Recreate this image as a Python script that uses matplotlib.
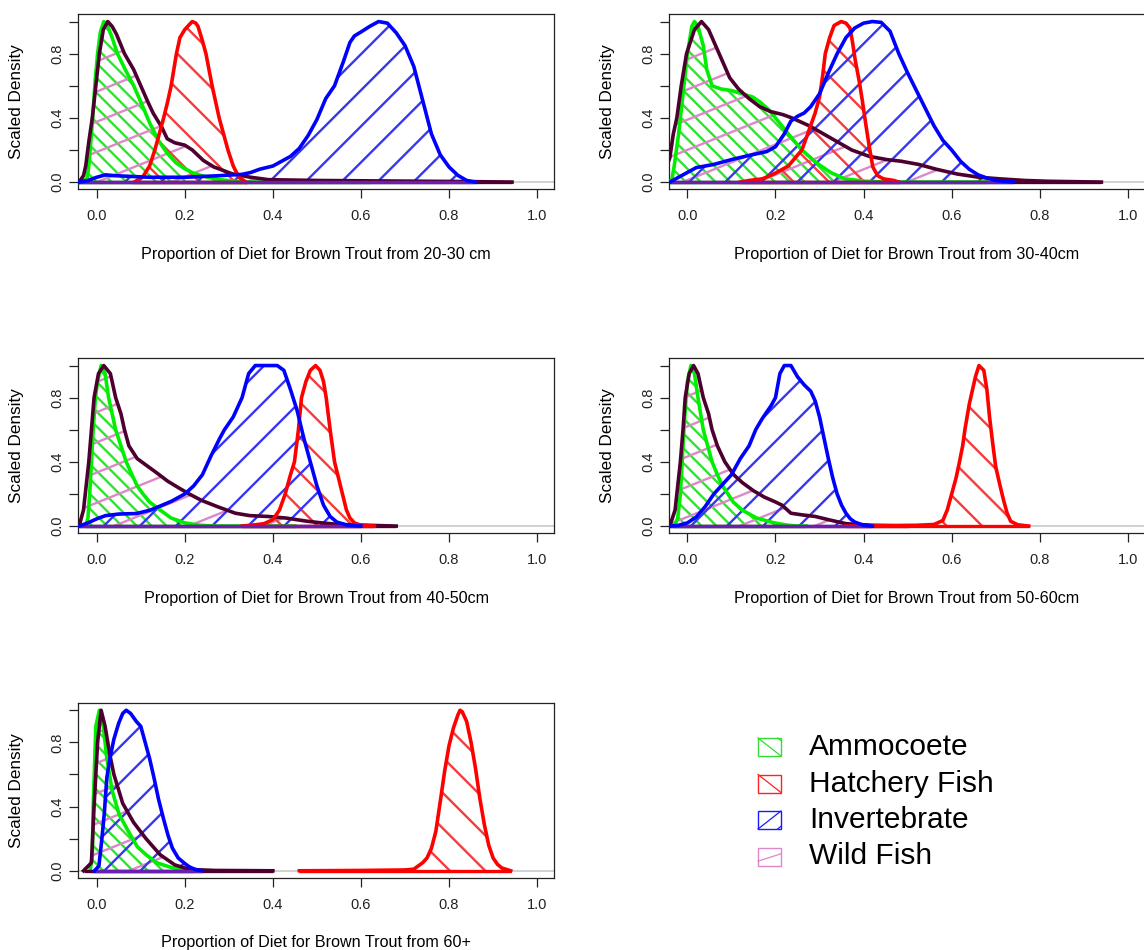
"""
Scaled posterior densities of diet proportions for brown trout size classes,
drawn as hatched density polygons in the style of the original R figure.
"""

import numpy as np
import matplotlib
matplotlib.use("Agg")
import matplotlib.pyplot as plt
from matplotlib.patches import Polygon, Rectangle
from matplotlib.collections import LineCollection

plt.rcParams["font.family"] = ["Liberation Sans", "DejaVu Sans"]

FIG_W, FIG_H = 1144, 950

PANEL_LABELS = [
    "Proportion of Diet for Brown Trout from 20-30 cm",
    "Proportion of Diet for Brown Trout from 30-40cm",
    "Proportion of Diet for Brown Trout from 40-50cm",
    "Proportion of Diet for Brown Trout from 50-60cm",
    "Proportion of Diet for Brown Trout from 60+",
]
SOURCES = ["Ammocoete", "Hatchery Fish", "Invertebrate", "Wild Fish"]

X_TICKS = [0.0, 0.2, 0.4, 0.6, 0.8, 1.0]
X_TICK_LABELS = ["0.0", "0.2", "0.4", "0.6", "0.8", "1.0"]
Y_TICKS = [0.0, 0.2, 0.4, 0.6, 0.8, 1.0]
Y_TICK_LABELS = ["0.0", "", "0.4", "", "0.8", ""]

# (proportion, scaled density) points, one curve per panel
AMMOCOETE = [
    [(-0.04, 0), (-0.022, 0.02), (-0.018, 0.1), (-0.012, 0.3), (-0.008, 0.45), (-0.003, 0.65),
     (0.002, 0.8), (0.008, 0.93), (0.016, 1.0), (0.025, 0.97), (0.035, 0.9), (0.047, 0.8),
     (0.065, 0.7), (0.084, 0.6), (0.1, 0.5), (0.12, 0.37), (0.14, 0.26), (0.16, 0.18),
     (0.18, 0.12), (0.2, 0.083), (0.22, 0.055), (0.25, 0.031), (0.28, 0.015), (0.31, 0.006),
     (0.35, 0), (0.62, 0)],
    [(-0.04, 0), (-0.035, 0.02), (-0.03, 0.1), (-0.02, 0.3), (-0.01, 0.55), (0.0, 0.8),
     (0.01, 0.97), (0.016, 1.0), (0.024, 0.97), (0.036, 0.85), (0.044, 0.7), (0.056, 0.6),
     (0.076, 0.58), (0.1, 0.57), (0.124, 0.55), (0.148, 0.53), (0.164, 0.5), (0.185, 0.45),
     (0.2, 0.4), (0.229, 0.3), (0.26, 0.2), (0.293, 0.12), (0.325, 0.06), (0.357, 0.02),
     (0.405, 0.005), (0.45, 0), (0.68, 0)],
    [(-0.025, 0), (-0.02, 0.05), (-0.016, 0.2), (-0.012, 0.4), (-0.008, 0.6), (-0.003, 0.8),
     (0.002, 0.9), (0.01, 1.0), (0.019, 0.95), (0.027, 0.8), (0.035, 0.7), (0.043, 0.6),
     (0.055, 0.5), (0.067, 0.4), (0.08, 0.32), (0.092, 0.25), (0.105, 0.2), (0.12, 0.15),
     (0.144, 0.1), (0.169, 0.05), (0.2, 0.02), (0.234, 0.005), (0.27, 0), (0.45, 0)],
    [(-0.03, 0), (-0.022, 0.05), (-0.016, 0.2), (-0.012, 0.4), (-0.008, 0.6), (-0.003, 0.8),
     (0.0, 0.9), (0.008, 1.0), (0.016, 0.95), (0.024, 0.8), (0.03, 0.7), (0.036, 0.6),
     (0.046, 0.5), (0.056, 0.4), (0.068, 0.32), (0.08, 0.25), (0.092, 0.2), (0.104, 0.15),
     (0.124, 0.1), (0.157, 0.05), (0.197, 0.02), (0.229, 0.005), (0.25, 0), (0.27, 0)],
    [(-0.015, 0), (-0.01, 0.1), (-0.008, 0.4), (-0.002, 0.9), (0.006, 1.0), (0.015, 0.9),
     (0.023, 0.7), (0.035, 0.5), (0.051, 0.35), (0.071, 0.25), (0.092, 0.15), (0.112, 0.1),
     (0.136, 0.05), (0.17, 0.02), (0.21, 0), (0.22, 0)],
]

HATCHERY = [
    [(0.085, 0), (0.104, 0.03), (0.12, 0.1), (0.132, 0.2), (0.142, 0.3), (0.152, 0.4),
     (0.161, 0.5), (0.169, 0.6), (0.175, 0.7), (0.181, 0.8), (0.189, 0.9), (0.2, 0.95),
     (0.21, 0.98), (0.217, 1.0), (0.225, 0.99), (0.23, 0.97), (0.24, 0.88), (0.248, 0.8),
     (0.262, 0.6), (0.27, 0.5), (0.278, 0.4), (0.288, 0.3), (0.298, 0.2), (0.31, 0.1),
     (0.323, 0.03), (0.339, 0)],
    [(0.12, 0), (0.14, 0.01), (0.17, 0.02), (0.196, 0.05), (0.229, 0.1), (0.26, 0.2),
     (0.277, 0.33), (0.29, 0.43), (0.3, 0.53), (0.307, 0.66), (0.313, 0.8), (0.323, 0.9),
     (0.333, 0.975), (0.349, 1.0), (0.36, 0.99), (0.369, 0.96), (0.375, 0.87), (0.381, 0.76),
     (0.39, 0.63), (0.397, 0.51), (0.405, 0.36), (0.413, 0.22), (0.421, 0.094), (0.432, 0.04),
     (0.445, 0.02), (0.469, 0.01), (0.48, 0)],
    [(0.33, 0), (0.36, 0.008), (0.38, 0.015), (0.4, 0.04), (0.415, 0.1), (0.428, 0.2),
     (0.44, 0.32), (0.449, 0.4), (0.458, 0.6), (0.465, 0.8), (0.475, 0.9), (0.485, 0.97),
     (0.497, 1.0), (0.507, 0.97), (0.515, 0.9), (0.521, 0.8), (0.53, 0.6), (0.54, 0.4),
     (0.549, 0.3), (0.558, 0.2), (0.567, 0.1), (0.575, 0.05), (0.585, 0.02), (0.6, 0.005),
     (0.63, 0)],
    [(0.36, 0), (0.45, 0.003), (0.52, 0.005), (0.56, 0.01), (0.58, 0.035), (0.59, 0.1),
     (0.6, 0.2), (0.61, 0.3), (0.617, 0.39), (0.625, 0.5), (0.63, 0.6), (0.64, 0.76),
     (0.654, 0.93), (0.662, 1.0), (0.673, 0.97), (0.68, 0.85), (0.686, 0.68), (0.693, 0.52),
     (0.7, 0.37), (0.71, 0.25), (0.718, 0.16), (0.726, 0.08), (0.734, 0.03), (0.75, 0.008),
     (0.775, 0)],
    [(0.46, 0), (0.6, 0.002), (0.7, 0.005), (0.72, 0.01), (0.73, 0.03), (0.74, 0.05),
     (0.75, 0.08), (0.76, 0.14), (0.77, 0.245), (0.78, 0.43), (0.79, 0.62), (0.8, 0.78),
     (0.81, 0.89), (0.82, 0.97), (0.825, 1.0), (0.83, 0.99), (0.84, 0.93), (0.85, 0.8),
     (0.86, 0.64), (0.87, 0.45), (0.88, 0.29), (0.89, 0.16), (0.9, 0.08), (0.91, 0.04),
     (0.92, 0.017), (0.94, 0)],
]

INVERTEBRATE = [
    [(-0.04, 0), (-0.02, 0.01), (0.0, 0.03), (0.02, 0.045), (0.04, 0.04), (0.08, 0.035),
     (0.12, 0.03), (0.16, 0.03), (0.2, 0.03), (0.24, 0.035), (0.28, 0.04), (0.31, 0.045),
     (0.33, 0.048), (0.35, 0.06), (0.37, 0.08), (0.4, 0.1), (0.42, 0.13), (0.44, 0.16),
     (0.46, 0.21), (0.48, 0.29), (0.5, 0.39), (0.52, 0.52), (0.54, 0.6), (0.56, 0.75),
     (0.575, 0.87), (0.585, 0.91), (0.6, 0.935), (0.62, 0.97), (0.64, 1.0), (0.66, 0.99),
     (0.68, 0.93), (0.7, 0.85), (0.72, 0.72), (0.74, 0.51), (0.76, 0.3), (0.78, 0.17),
     (0.8, 0.094), (0.82, 0.042), (0.84, 0.01), (0.86, 0)],
    [(-0.04, 0), (-0.02, 0.03), (0.0, 0.06), (0.02, 0.09), (0.06, 0.11), (0.1, 0.14),
     (0.14, 0.166), (0.18, 0.19), (0.2, 0.22), (0.22, 0.3), (0.235, 0.38), (0.25, 0.41),
     (0.265, 0.43), (0.28, 0.47), (0.3, 0.55), (0.32, 0.68), (0.34, 0.8), (0.36, 0.9),
     (0.38, 0.96), (0.4, 0.99), (0.42, 1.0), (0.44, 0.995), (0.46, 0.94), (0.48, 0.8),
     (0.5, 0.68), (0.52, 0.57), (0.54, 0.46), (0.56, 0.35), (0.58, 0.26), (0.6, 0.2),
     (0.62, 0.13), (0.64, 0.08), (0.66, 0.045), (0.68, 0.025), (0.7, 0.01), (0.74, 0)],
    [(-0.04, 0), (-0.02, 0.02), (0.0, 0.045), (0.02, 0.065), (0.05, 0.075), (0.09, 0.078),
     (0.12, 0.098), (0.14, 0.12), (0.17, 0.155), (0.2, 0.2), (0.22, 0.25), (0.24, 0.32),
     (0.26, 0.44), (0.28, 0.55), (0.29, 0.6), (0.31, 0.68), (0.33, 0.8), (0.345, 0.95),
     (0.36, 1.0), (0.41, 1.0), (0.425, 0.97), (0.44, 0.85), (0.455, 0.72), (0.47, 0.55),
     (0.485, 0.4), (0.5, 0.25), (0.515, 0.13), (0.53, 0.06), (0.545, 0.025), (0.57, 0.005),
     (0.6, 0)],
    [(-0.04, 0), (-0.02, 0.005), (0.0, 0.02), (0.02, 0.056), (0.04, 0.12), (0.06, 0.2),
     (0.08, 0.26), (0.1, 0.32), (0.12, 0.42), (0.14, 0.5), (0.155, 0.6), (0.17, 0.67),
     (0.19, 0.75), (0.2, 0.8), (0.21, 0.95), (0.22, 1.0), (0.235, 1.0), (0.25, 0.93),
     (0.265, 0.88), (0.28, 0.84), (0.29, 0.78), (0.3, 0.68), (0.31, 0.55), (0.32, 0.42),
     (0.33, 0.3), (0.34, 0.2), (0.35, 0.13), (0.36, 0.08), (0.37, 0.045), (0.38, 0.025),
     (0.4, 0.005), (0.42, 0)],
    [(-0.005, 0), (0.005, 0.03), (0.011, 0.18), (0.017, 0.35), (0.023, 0.58), (0.03, 0.7),
     (0.039, 0.82), (0.05, 0.92), (0.059, 0.98), (0.067, 1.0), (0.077, 0.98), (0.09, 0.93),
     (0.1, 0.9), (0.11, 0.8), (0.12, 0.7), (0.13, 0.58), (0.14, 0.45), (0.152, 0.32),
     (0.162, 0.22), (0.172, 0.14), (0.185, 0.08), (0.2, 0.045), (0.21, 0.025), (0.225, 0.006),
     (0.24, 0)],
]

WILD_FISH = [
    [(-0.04, 0), (-0.03, 0.04), (-0.025, 0.1), (-0.018, 0.25), (-0.01, 0.4), (-0.002, 0.6),
     (0.006, 0.8), (0.015, 0.95), (0.025, 1.0), (0.035, 0.97), (0.045, 0.92), (0.063, 0.8),
     (0.084, 0.7), (0.1, 0.6), (0.116, 0.5), (0.128, 0.43), (0.148, 0.34), (0.16, 0.27),
     (0.177, 0.245), (0.2, 0.23), (0.217, 0.2), (0.242, 0.135), (0.266, 0.094), (0.307, 0.052),
     (0.347, 0.031), (0.39, 0.015), (0.5, 0.01), (0.7, 0.006), (0.85, 0.003), (0.943, 0)],
    [(-0.06, 0), (-0.05, 0.08), (-0.04, 0.15), (-0.032, 0.3), (-0.024, 0.4), (-0.014, 0.6),
     (-0.002, 0.8), (0.016, 0.95), (0.032, 1.0), (0.048, 0.95), (0.064, 0.85), (0.08, 0.75),
     (0.096, 0.65), (0.116, 0.58), (0.14, 0.52), (0.164, 0.47), (0.188, 0.44), (0.217, 0.42),
     (0.237, 0.4), (0.277, 0.35), (0.309, 0.3), (0.341, 0.25), (0.373, 0.2), (0.413, 0.16),
     (0.453, 0.14), (0.485, 0.13), (0.525, 0.11), (0.565, 0.08), (0.613, 0.05), (0.662, 0.03),
     (0.71, 0.02), (0.766, 0.01), (0.82, 0.005), (0.94, 0)],
    [(-0.04, 0), (-0.03, 0.1), (-0.024, 0.25), (-0.018, 0.4), (-0.012, 0.6), (-0.006, 0.8),
     (0.004, 0.95), (0.016, 1.0), (0.031, 0.95), (0.043, 0.8), (0.055, 0.7), (0.063, 0.6),
     (0.073, 0.5), (0.092, 0.42), (0.112, 0.38), (0.137, 0.33), (0.161, 0.28), (0.185, 0.24),
     (0.21, 0.2), (0.238, 0.16), (0.275, 0.12), (0.315, 0.08), (0.348, 0.065), (0.388, 0.06),
     (0.43, 0.05), (0.478, 0.03), (0.51, 0.02), (0.55, 0.01), (0.615, 0.005), (0.68, 0)],
    [(-0.04, 0), (-0.028, 0.1), (-0.022, 0.25), (-0.016, 0.4), (-0.01, 0.6), (-0.005, 0.8),
     (0.004, 0.95), (0.014, 1.0), (0.024, 0.95), (0.036, 0.8), (0.048, 0.7), (0.056, 0.6),
     (0.068, 0.5), (0.085, 0.4), (0.105, 0.32), (0.125, 0.27), (0.15, 0.22), (0.175, 0.18),
     (0.2, 0.15), (0.215, 0.13), (0.235, 0.08), (0.26, 0.07), (0.29, 0.06), (0.32, 0.04),
     (0.36, 0.015), (0.42, 0.005), (0.5, 0)],
    [(-0.03, 0), (-0.012, 0.05), (-0.006, 0.4), (0.002, 0.8), (0.01, 1.0), (0.019, 0.9),
     (0.03, 0.72), (0.039, 0.6), (0.059, 0.42), (0.084, 0.3), (0.112, 0.2), (0.144, 0.1),
     (0.177, 0.037), (0.2, 0.017), (0.23, 0.006), (0.27, 0.002), (0.4, 0)],
]

# drawing style per source: outline, hatch colour, baseline colour, hatch angle, spacing (px)
STYLES = {
    "Ammocoete": dict(line="#00ee00", hatch="#2fe32f", base="#00dd00", angle=-45, gap=10.5),
    "Hatchery Fish": dict(line="#ff0000", hatch="#f53b3b", base="#ff0000", angle=-45, gap=25),
    "Invertebrate": dict(line="#0000ff", hatch="#3636f5", base="#6a1fb0", angle=45, gap=25.5),
    "Wild Fish": dict(line="#4d0030", hatch="#dd88c8", base="#4d0030", angle=22, gap=28),
}
DRAW_ORDER = [("Ammocoete", AMMOCOETE), ("Wild Fish", WILD_FISH),
              ("Hatchery Fish", HATCHERY), ("Invertebrate", INVERTEBRATE)]

# panel geometry in pixels (left, top), all panels share a size
AX_W, AX_H = 476.3, 175.3
PANEL_POS = [(78, 14), (668.7, 14), (78, 358), (668.7, 358), (78, 702.7)]
XLIM = (-0.0425, 1.039)
YLIM = (-0.045, 1.047)


def hatch_polygon(ax, patch, angle, gap, color, lw):
    """Parallel lines at a device-space angle, clipped to the polygon."""
    disp = ax.transData.transform(patch.get_xy())
    x0, y0 = disp.min(axis=0)
    x1, y1 = disp.max(axis=0)
    cx, cy = (x0 + x1) / 2, (y0 + y1) / 2
    diag = np.hypot(x1 - x0, y1 - y0)
    th = np.radians(angle)
    d = np.array([np.cos(th), np.sin(th)])
    n = np.array([-np.sin(th), np.cos(th)])
    k_max = int(np.ceil(diag / gap)) + 1
    inv = ax.transData.inverted()
    segs = []
    for k in range(-k_max, k_max + 1):
        c = np.array([cx, cy]) + k * gap * n
        seg = np.array([c - diag * d, c + diag * d])
        segs.append(inv.transform(seg))
    lc = LineCollection(segs, colors=color, linewidths=lw, zorder=2)
    ax.add_collection(lc, autolim=False)
    lc.set_clip_path(patch)


def draw_density(ax, pts, style):
    xs = [p[0] for p in pts]
    ys = [p[1] for p in pts]
    verts = list(pts) + [(xs[-1], 0.0), (xs[0], 0.0)]
    patch = Polygon(verts, closed=True, facecolor="none", edgecolor="none")
    ax.add_patch(patch)
    hatch_polygon(ax, patch, style["angle"], style["gap"], style["hatch"], 1.7)
    ax.plot([xs[0], xs[-1]], [0, 0], color=style["base"], lw=2.4, zorder=3,
            solid_capstyle="butt")
    ax.plot(xs, ys, color=style["line"], lw=2.6, zorder=3, solid_joinstyle="round")


def make_panel(fig, idx):
    left, top = PANEL_POS[idx]
    ax = fig.add_axes([left / FIG_W, 1 - (top + AX_H) / FIG_H, AX_W / FIG_W, AX_H / FIG_H])
    ax.set_xlim(*XLIM)
    ax.set_ylim(*YLIM)
    ax.axhline(0, color="#c8c8c8", lw=1.2, zorder=1)
    for name, curves in DRAW_ORDER:
        draw_density(ax, curves[idx], STYLES[name])
    ax.set_xticks(X_TICKS)
    ax.set_xticklabels(X_TICK_LABELS)
    ax.set_yticks(Y_TICKS)
    ax.set_yticklabels(Y_TICK_LABELS, rotation=90, va="center")
    ax.tick_params(axis="both", direction="out", length=6.5, width=0.9, labelsize=10.5,
                   colors="#222222")
    ax.tick_params(axis="x", pad=8)
    ax.tick_params(axis="y", pad=3)
    for sp in ax.spines.values():
        sp.set_linewidth(0.9)
        sp.set_color("#222222")
    ax.text(0.5, -64.7 / AX_H, PANEL_LABELS[idx], transform=ax.transAxes,
            ha="center", va="center", fontsize=11.6)
    ax.text(-(78 - 17) / AX_W, 0.5, "Scaled Density", transform=ax.transAxes,
            ha="center", va="center", rotation=90, fontsize=12.3)
    return ax


def draw_legend(fig):
    lax = fig.add_axes([0, 0, 1, 1])
    lax.set_xlim(0, FIG_W)
    lax.set_ylim(FIG_H, 0)
    lax.axis("off")
    bx, bw, bh = 758, 23, 18
    # strokes in each key box as fractions (x0, y0, x1, y1), measured from the top-left
    strokes = {
        "Ammocoete": [(0, 0, 1, 1), (0.85, 0, 1, 0.15)],
        "Hatchery Fish": [(0, 0, 1, 1)],
        "Invertebrate": [(0, 1, 1, 0), (0.85, 1, 1, 0.85)],
        "Wild Fish": [(0, 0.76, 1, 0.35)],
    }
    key_colors = {"Ammocoete": "#33dd33", "Hatchery Fish": "#ff2222",
                  "Invertebrate": "#1a1aff", "Wild Fish": "#dd88c8"}
    for i, name in enumerate(SOURCES):
        cy = 747 + 36.5 * i
        top = cy - bh / 2
        color = key_colors[name]
        lax.add_patch(Rectangle((bx, top), bw, bh, fill=False, edgecolor=color, lw=1.0))
        for (a, b, c, d) in strokes[name]:
            lax.plot([bx + a * bw, bx + c * bw], [top + b * bh, top + d * bh],
                     color=color, lw=0.9)
        lax.text(809, cy, name, ha="left", va="center", fontsize=21.5, color="black")


def main():
    fig = plt.figure(figsize=(FIG_W / 100, FIG_H / 100), dpi=100)
    for idx in range(len(PANEL_LABELS)):
        make_panel(fig, idx)
    draw_legend(fig)
    fig.savefig("out.png", dpi=100)


if __name__ == "__main__":
    main()
